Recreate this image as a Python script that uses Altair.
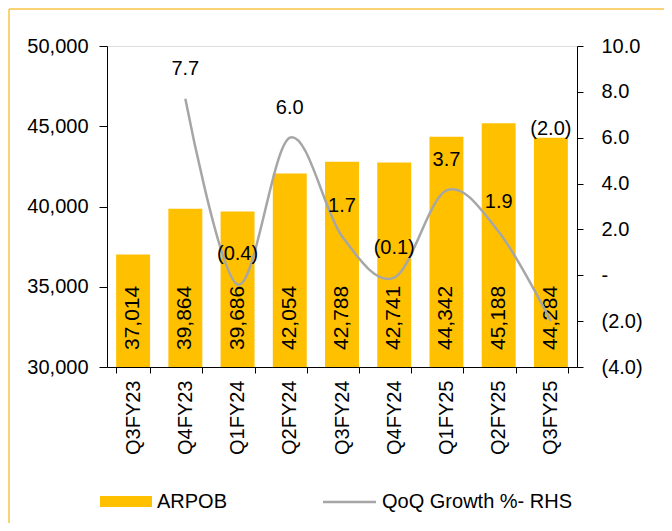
import altair as alt
import pandas as pd

quarters = ["Q3FY23", "Q4FY23", "Q1FY24", "Q2FY24", "Q3FY24", "Q4FY24", "Q1FY25", "Q2FY25", "Q3FY25"]
arpob = [37014, 39864, 39686, 42054, 42788, 42741, 44342, 45188, 44284]
qoq_growth = [None, 7.7, -0.4, 6.0, 1.7, -0.1, 3.7, 1.9, -2.0]
left_ticks = [30000, 35000, 40000, 45000, 50000]
right_ticks = [-4, -2, 0, 2, 4, 6, 8, 10]

df = pd.DataFrame({"quarter": quarters, "arpob": arpob, "growth": qoq_growth})

FONT = "Liberation Sans"
BAR = "#FFC000"
LINE = "#A6A6A6"

glabel_expr = ("datum.growth == null ? '' : (datum.growth < 0 ? '(' + format(-datum.growth, '.1f') + ')'"
               " : format(datum.growth, '.1f'))")

x_enc = alt.X(
    "quarter:N", sort=quarters, title=None,
    scale=alt.Scale(paddingInner=0.35, paddingOuter=0.175),
    axis=alt.Axis(labelAngle=270, labelFontSize=20, labelFont=FONT, labelColor="black",
                  labelPadding=7, tickBand="extent", tickSize=6, tickColor="black",
                  domainColor="black", labelAlign="right", labelBaseline="middle", grid=False),
)

left_scale = alt.Scale(domain=[30000, 50000], nice=False, zero=False)
left_axis = alt.Axis(values=left_ticks, format=",.0f", labelFontSize=20, labelFont=FONT,
                     labelColor="black", tickSize=8, labelPadding=11, domainColor="black",
                     tickColor="black", grid=False)

right_scale = alt.Scale(domain=[-4, 10], nice=False, zero=False)
right_axis = alt.Axis(orient="right", values=right_ticks,
                      labelExpr=("datum.value < 0 ? '(' + format(-datum.value, '.1f') + ')' : "
                                 "(datum.value == 0 ? '-' : format(datum.value, '.1f'))"),
                      labelFontSize=20, labelFont=FONT, labelColor="black", tickSize=6,
                      labelPadding=18, domainColor="black", tickColor="black", grid=False)

base = alt.Chart(df)

bars = base.mark_bar(color=BAR).transform_calculate(base="30000").encode(
    x=x_enc, y=alt.Y("arpob:Q", title=None, scale=left_scale, axis=left_axis),
    y2=alt.Y2("base:Q"))

bar_labels = base.transform_calculate(base="30000").mark_text(
    angle=270, align="left", baseline="middle", dx=17, fontSize=21, font=FONT, color="black"
).encode(x=x_enc, y=alt.Y("base:Q", title=None, scale=left_scale, axis=left_axis),
         text=alt.Text("arpob:Q", format=",.0f"))

last_label = base.transform_calculate(glabel=glabel_expr).transform_filter(
    "datum.quarter == 'Q3FY25'"
).mark_text(dy=-9, fontSize=20, font=FONT, color="black", baseline="middle").encode(
    x=x_enc, y=alt.Y("arpob:Q", title=None, scale=left_scale, axis=left_axis), text="glabel:N")

left = alt.layer(bars, bar_labels, last_label)

line = base.mark_line(interpolate="cardinal", color=LINE, strokeWidth=2.5).encode(
    x=x_enc, y=alt.Y("growth:Q", title=None, scale=right_scale, axis=right_axis))

line_labels = base.transform_calculate(glabel=glabel_expr).transform_filter(
    "datum.growth != null && datum.quarter != 'Q3FY25'"
).mark_text(dy=-30, fontSize=20, font=FONT, color="black", baseline="middle").encode(
    x=x_enc, y=alt.Y("growth:Q", title=None, scale=right_scale, axis=right_axis), text="glabel:N")

right = alt.layer(line, line_labels)

one = alt.Chart(pd.DataFrame({"a": [0]}))
leg_rect = one.mark_rect(color=BAR).encode(
    x=alt.value(-7), x2=alt.value(45), y=alt.value(450), y2=alt.value(461))
leg_t1 = one.mark_text(text="ARPOB", align="left", baseline="middle", fontSize=20,
                       font=FONT, color="black").encode(x=alt.value(50), y=alt.value(456))
leg_line = one.mark_rule(color=LINE, strokeWidth=2.5).encode(
    x=alt.value(216), x2=alt.value(269), y=alt.value(456))
leg_t2 = one.mark_text(text="QoQ Growth %- RHS", align="left", baseline="middle", fontSize=20,
                       font=FONT, color="black").encode(x=alt.value(275), y=alt.value(456))

border_l = one.mark_rule(color="#F7C548", strokeWidth=1.5).encode(
    x=alt.value(-98), x2=alt.value(-98), y=alt.value(-37), y2=alt.value(500))
border_t = one.mark_rule(color="#F7C548", strokeWidth=1.5).encode(
    x=alt.value(-98), x2=alt.value(570), y=alt.value(-37), y2=alt.value(-37))

chart = alt.layer(left, right, leg_rect, leg_t1, leg_line, leg_t2, border_l, border_t).resolve_scale(
    y="independent"
).properties(
    width=470, height=321,
    padding={"left": 99, "top": 38, "right": 87, "bottom": 156},
    autosize=alt.AutoSizeParams(type="none"),
).configure_view(stroke=None).configure(background="white")

chart.save("out.html", embed_options={"renderer": "svg", "actions": False})
